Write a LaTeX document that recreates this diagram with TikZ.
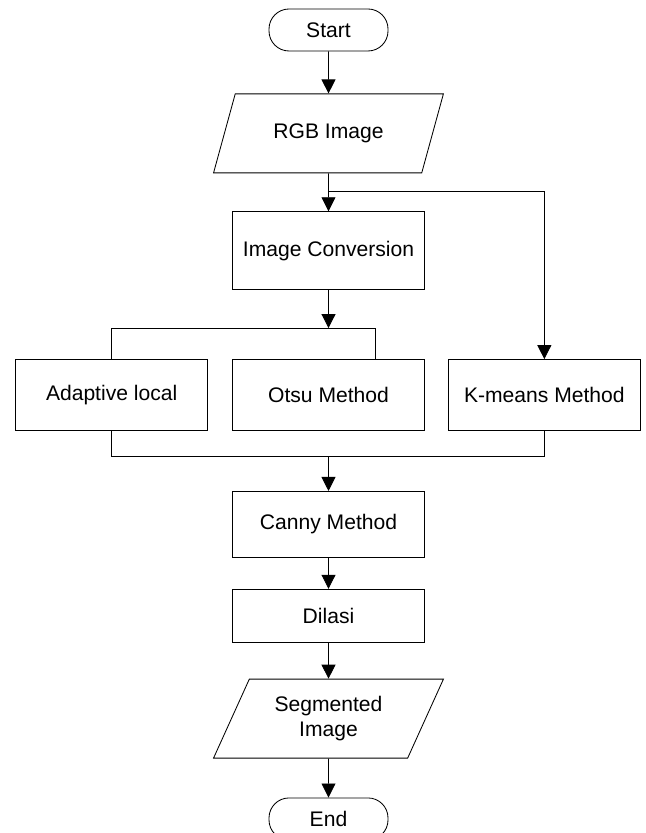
\documentclass[tikz,border=0pt]{standalone}
\usepackage{fontspec}
\setmainfont{Liberation Sans}
\usepackage{tikz}
\usetikzlibrary{arrows.meta, positioning, shapes.geometric, calc}

\begin{document}
\begin{tikzpicture}[
  term/.style={draw, rounded corners=0.5cm, minimum width=2.975cm, minimum height=1.05cm, align=center, font=\fontsize{15}{18}\selectfont},
  proc/.style={draw, minimum width=4.8cm, align=center, font=\fontsize{15}{18}\selectfont},
  io/.style={draw, trapezium, trapezium left angle=64, trapezium right angle=116, trapezium stretches=true, minimum width=5.75cm, minimum height=1.975cm, align=center, font=\fontsize{15}{18}\selectfont},
  >={Triangle[length=3.5mm, width=3.5mm]}, line width=0.6pt
]
\useasboundingbox (0,0) rectangle (16.15,-20.825);
\node[term] (start) at (8.2125,-0.75) {Start};
\node[io, below=1.05cm of start] (rgb) {RGB Image};
\node[proc, minimum height=1.95cm, below=0.95cm of rgb] (conv) {Image Conversion};
\node[proc, minimum height=1.775cm, below=1.725cm of conv] (otsu) {Otsu Method};
\node[proc, minimum height=1.775cm, left=0.6cm of otsu] (adapt) {Adaptive local};
\node[proc, minimum height=1.775cm, right=0.575cm of otsu] (kmeans) {K-means Method};
\node[proc, minimum height=1.65cm, below=1.5cm of otsu] (canny) {Canny Method};
\node[proc, minimum height=1.325cm, below=0.775cm of canny] (dilasi) {Dilasi};
\node[io, below=0.9cm of dilasi] (seg) {Segmented\\Image};
\node[term, below=0.975cm of seg] (end) {End};

\coordinate (fork) at ($(rgb.south)!0.47!(conv.north)$);
\coordinate (split) at ($(conv.south)!0.55!(otsu.north)$);
\coordinate (merge) at ($(otsu.south)!0.42!(canny.north)$);

\draw[->] (start) -- (rgb);
\draw[->] (rgb) -- (conv);
\draw[->] (fork) -| (kmeans.north);
\draw[->] (conv.south) -- (split);
\draw (adapt.north) |- (split) -| ([xshift=1.175cm]otsu.north);
\draw (adapt.south) |- (merge) -| (kmeans.south);
\draw[->] (merge) -- (canny);
\draw[->] (canny) -- (dilasi);
\draw[->] (dilasi) -- (seg);
\draw[->] (seg) -- (end);
\end{tikzpicture}
\end{document}
